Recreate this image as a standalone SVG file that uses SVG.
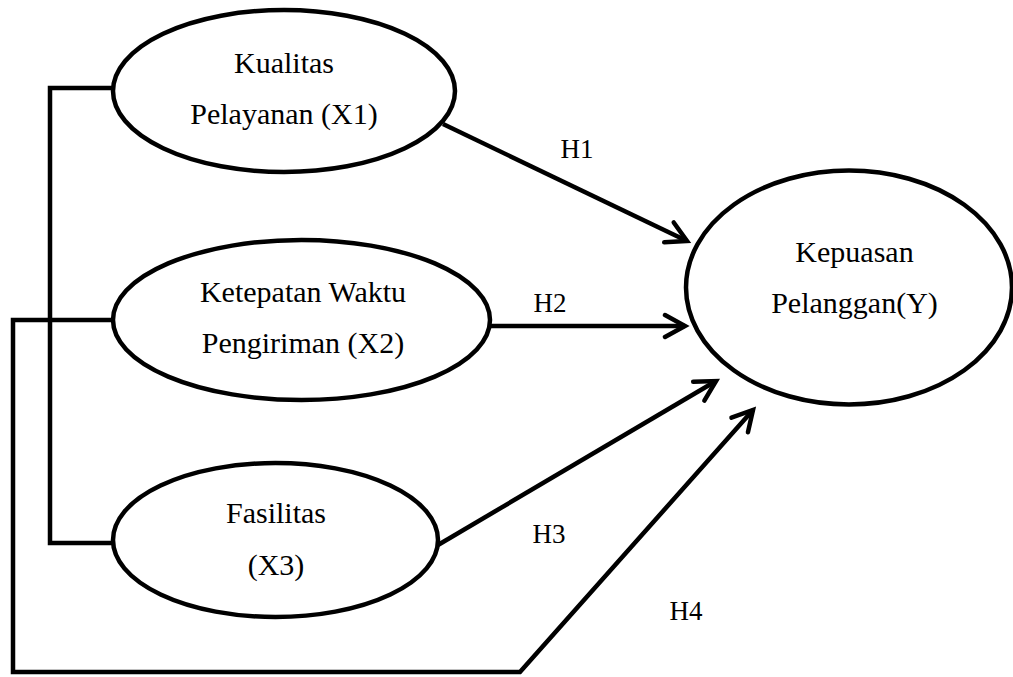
<svg xmlns="http://www.w3.org/2000/svg" width="1013" height="677" viewBox="0 0 1013 677">
<style>
.node{fill:#fff;stroke:#000;stroke-width:4.5}
.lbl{font-family:"Liberation Serif","Times New Roman",serif;font-size:30px;fill:#000;text-anchor:middle}
.hl{font-family:"Liberation Serif","Times New Roman",serif;font-size:27px;fill:#000;text-anchor:middle}
.con{fill:none;stroke:#000;stroke-width:4.5;stroke-linejoin:miter}
.arr{marker-end:url(#ah)}
</style>
<defs>
<marker id="ah" viewBox="-3 -3 28 28" refX="20" refY="11" markerWidth="28" markerHeight="28" markerUnits="userSpaceOnUse" orient="auto">
<path d="M0,0 L20,11 L0,22" fill="none" stroke="#000" stroke-width="4.5" stroke-linecap="round" stroke-linejoin="miter"/>
</marker>
</defs>
<g id="connectors">
<polyline class="con" points="113,88 50,88 50,543 113,543"/>
<polyline class="con" points="113,320 13,320 13,672 520,672 753,410"/>
<line class="con arr" x1="443" y1="124" x2="687" y2="241"/>
<line class="con arr" x1="490" y1="326" x2="685" y2="326"/>
<line class="con arr" x1="438" y1="545" x2="716" y2="381"/>
<path d="M0,0 L20,11 L0,22" fill="none" stroke="#000" stroke-width="4.5" stroke-linecap="round" transform="translate(753,410) rotate(-48.35) translate(-20,-11)"/>
<text class="hl" x="577" y="158">H1</text>
<text class="hl" x="550" y="312">H2</text>
<text class="hl" x="549" y="543">H3</text>
<text class="hl" x="686" y="620">H4</text>
</g>
<g id="x1">
<ellipse class="node" cx="284" cy="91" rx="171" ry="81"/>
<text class="lbl" x="284" y="73">Kualitas</text>
<text class="lbl" x="284" y="124">Pelayanan (X1)</text>
</g>
<g id="x2">
<ellipse class="node" cx="301.5" cy="320" rx="188.5" ry="80"/>
<text class="lbl" x="303" y="302">Ketepatan Waktu</text>
<text class="lbl" x="303" y="353">Pengiriman (X2)</text>
</g>
<g id="x3">
<ellipse class="node" cx="275.5" cy="540" rx="162.5" ry="77"/>
<text class="lbl" x="276" y="523">Fasilitas</text>
<text class="lbl" x="276" y="575">(X3)</text>
</g>
<g id="y">
<ellipse class="node" cx="849" cy="287.5" rx="163" ry="117"/>
<text class="lbl" x="854.5" y="262">Kepuasan</text>
<text class="lbl" x="854.5" y="313">Pelanggan(Y)</text>
</g>
</svg>
